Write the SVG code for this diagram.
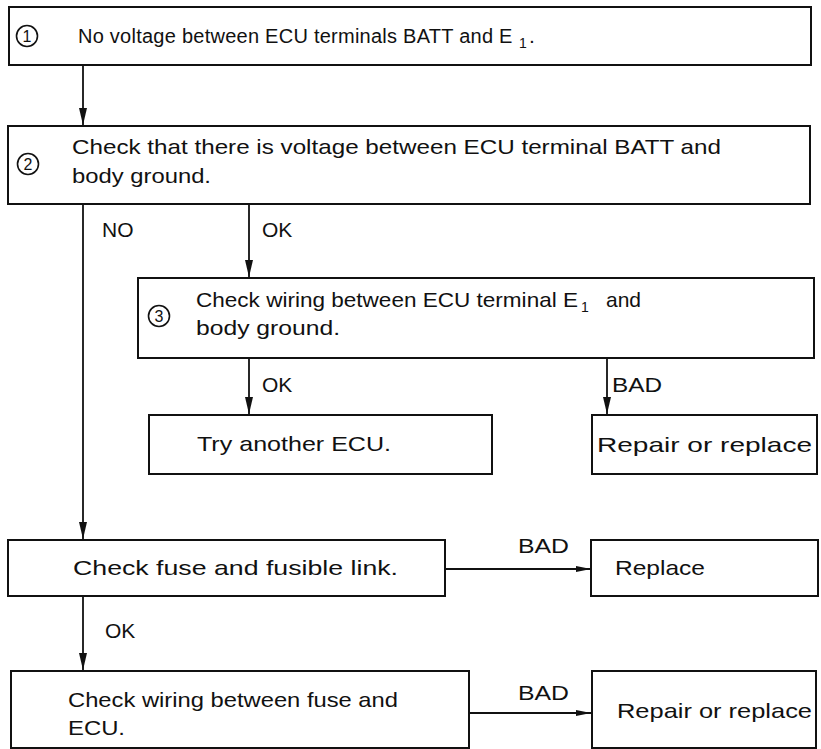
<svg xmlns="http://www.w3.org/2000/svg" width="821" height="749" viewBox="0 0 821 749">
<style>
.box{fill:#fff;stroke:#111;stroke-width:2}
.t{font-family:"Liberation Sans",Arial,sans-serif;font-size:21px;fill:#111}
.sub{font-family:"Liberation Sans",Arial,sans-serif;font-size:14px;fill:#111}
.num{fill:none;stroke:#111;stroke-width:1.6}
.n{font-family:"Liberation Sans",Arial,sans-serif;font-size:16px;fill:#111;text-anchor:middle}
.c{fill:none;stroke:#111;stroke-width:1.8}
</style>
<defs>
<marker id="av" markerUnits="userSpaceOnUse" markerWidth="17" markerHeight="8" viewBox="0 0 17 8" refX="17" refY="4" orient="auto">
<path d="M0,0 L17,4 L0,8 Z" fill="#111"/>
</marker>
<marker id="ah" markerUnits="userSpaceOnUse" markerWidth="15" markerHeight="6" viewBox="0 0 15 6" refX="15" refY="3" orient="auto">
<path d="M0,0 L15,3 L0,6 Z" fill="#111"/>
</marker>
</defs>
<rect width="821" height="749" fill="#fff"/>
<g id="connectors">
<line class="c" x1="83" y1="65" x2="83" y2="125" marker-end="url(#av)"/>
<line class="c" x1="83" y1="204" x2="83" y2="539" marker-end="url(#av)"/>
<line class="c" x1="249" y1="204" x2="249" y2="277" marker-end="url(#av)"/>
<line class="c" x1="249" y1="358" x2="249" y2="414" marker-end="url(#av)"/>
<line class="c" x1="607" y1="358" x2="607" y2="414" marker-end="url(#av)"/>
<line class="c" x1="83" y1="596" x2="83" y2="670" marker-end="url(#av)"/>
<line class="c" x1="445" y1="569" x2="591" y2="569" marker-end="url(#ah)"/>
<line class="c" x1="469" y1="713" x2="591" y2="713" marker-end="url(#ah)"/>
<text class="t" x="102" y="237">NO</text>
<text class="t" x="262" y="237">OK</text>
<text class="t" x="262" y="392">OK</text>
<text class="t" x="612" y="392" textLength="50" lengthAdjust="spacingAndGlyphs">BAD</text>
<text class="t" x="518" y="553" textLength="51" lengthAdjust="spacingAndGlyphs">BAD</text>
<text class="t" x="105" y="638">OK</text>
<text class="t" x="518" y="700" textLength="51" lengthAdjust="spacingAndGlyphs">BAD</text>
</g>
<g id="n1">
<rect class="box" x="9" y="7" width="802" height="58"/>
<circle class="num" cx="27" cy="36" r="10.5"/><text class="n" x="27" y="41.5">1</text>
<text class="t" x="78" y="43" style="font-size:20px;letter-spacing:0.25px">No voltage between ECU terminals BATT and E</text>
<text class="sub" x="519" y="48">1</text>
<text class="t" x="529" y="43">.</text>
</g>
<g id="n2">
<rect class="box" x="8" y="126" width="802" height="78"/>
<circle class="num" cx="28" cy="164" r="10.5"/><text class="n" x="28" y="169.5">2</text>
<text class="t" x="72" y="154" textLength="649" lengthAdjust="spacingAndGlyphs">Check that there is voltage between ECU terminal BATT and</text>
<text class="t" x="72" y="183" textLength="139" lengthAdjust="spacingAndGlyphs">body ground.</text>
</g>
<g id="n3">
<rect class="box" x="138" y="278" width="676" height="80"/>
<circle class="num" cx="159" cy="316" r="10.5"/><text class="n" x="159" y="321.5">3</text>
<text class="t" x="196" y="307" textLength="382" lengthAdjust="spacingAndGlyphs">Check wiring between ECU terminal E</text>
<text class="sub" x="581" y="312">1</text>
<text class="t" x="606" y="307">and</text>
<text class="t" x="196" y="335" textLength="144" lengthAdjust="spacingAndGlyphs">body ground.</text>
</g>
<g id="n4">
<rect class="box" x="149" y="415" width="343" height="59"/>
<text class="t" x="197" y="451" textLength="194" lengthAdjust="spacingAndGlyphs">Try another ECU.</text>
</g>
<g id="n6">
<rect class="box" x="592" y="415" width="225" height="59"/>
<text class="t" x="597" y="452" textLength="215" lengthAdjust="spacingAndGlyphs">Repair or replace</text>
</g>
<g id="n5">
<rect class="box" x="8" y="540" width="437" height="56"/>
<text class="t" x="73" y="575" textLength="325" lengthAdjust="spacingAndGlyphs">Check fuse and fusible link.</text>
</g>
<g id="n7">
<rect class="box" x="591" y="540" width="227" height="56"/>
<text class="t" x="615" y="575" textLength="90" lengthAdjust="spacingAndGlyphs">Replace</text>
</g>
<g id="n8">
<rect class="box" x="11" y="671" width="458" height="77"/>
<text class="t" x="68" y="707" textLength="330" lengthAdjust="spacingAndGlyphs">Check wiring between fuse and</text>
<text class="t" x="68" y="735" textLength="57" lengthAdjust="spacingAndGlyphs">ECU.</text>
</g>
<g id="n9">
<rect class="box" x="592" y="671" width="224" height="77"/>
<text class="t" x="617" y="718" textLength="195" lengthAdjust="spacingAndGlyphs">Repair or replace</text>
</g>
</svg>
